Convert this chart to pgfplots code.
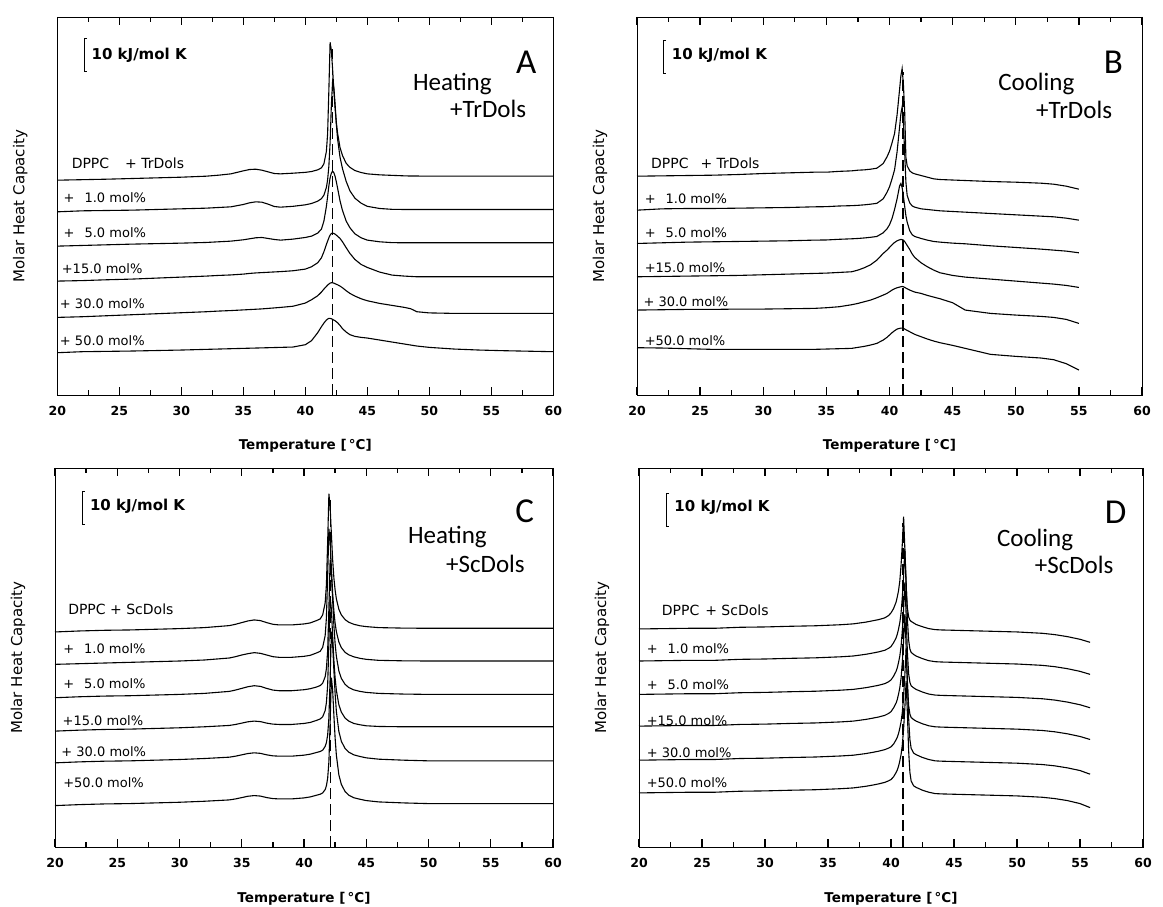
\documentclass[border=0pt]{standalone}
\usepackage{fontspec}
\setmainfont{DejaVu Sans}
\newfontfamily\calib{Carlito}
\usepackage{pgfplots}
\usepackage{pgfplotstable}
\pgfplotsset{compat=1.18}

% Excess molar heat capacity (kJ/mol K) of each sample, relative to its
% value at 20 C; every trace is stacked by its own offset in the plot.

% Heating, DPPC + TrDols
\pgfplotstableread{
T a0 a1 a2 a3 a4 a5
20 0 0 0 0 0 0
22 0.15 0.3 0.2 0.15 0.2 0.3
24 0.3 0.4 0.4 0.4 0.5 0.4
26 0.5 0.5 0.6 0.6 0.8 0.5
28 0.7 0.7 0.75 0.9 1.1 0.65
30 0.9 0.9 0.9 1.2 1.4 0.8
32 1.2 1.1 1.1 1.5 1.7 1.0
33 1.5 1.3 1.3 1.7 1.9 1.1
34 1.9 1.5 1.5 1.85 2.05 1.2
35 2.8 2.2 1.9 2.1 2.25 1.3
35.5 3.2 2.7 2.2 2.3 2.35 1.35
36 3.3 3.0 2.5 2.45 2.45 1.4
36.5 3.0 2.9 2.6 2.55 2.55 1.45
37 2.5 2.3 2.3 2.65 2.7 1.5
37.5 2.0 1.6 2.0 2.75 2.85 1.55
38 1.9 1.4 1.8 2.85 3.0 1.6
39 2.1 1.65 2.1 3.1 3.35 1.7
40 2.35 2.1 2.6 3.6 4.3 2.4
40.5 2.6 2.5 3.0 4.3 5.3 3.6
41 3.1 3.2 3.9 5.5 6.5 6.0
41.3 3.7 3.95 5.1 7.0 7.6 7.8
41.5 4.9 5.0 7.5 8.8 8.5 8.9
41.7 8.6 7.3 11.9 11.0 9.3 9.8
41.8 14.0 9.6 14.9 12.0 9.7 10.1
41.9 26.9 13.7 18.1 13.0 10.0 10.3
42.0 41.4 20.7 20.5 13.8 10.3 10.3
42.1 39.0 31.8 21.9 14.3 10.4 10.2
42.2 33.5 39.2 22.5 14.4 10.4 10.0
42.3 27.2 37.4 22.05 14.3 10.3 9.8
42.4 21.7 32.5 21.0 14.1 10.1 9.6
42.5 17.4 26.5 19.35 13.8 9.95 9.3
42.6 14.2 22.0 17.5 13.5 9.8 9.0
42.8 9.8 16.4 13.6 12.8 9.4 8.2
43.0 7.4 12.95 10.7 11.8 8.9 7.2
43.3 5.05 9.1 7.5 10.0 8.0 6.2
43.6 3.85 6.3 5.5 8.3 7.2 5.4
44.0 2.9 4.1 3.7 6.5 6.4 4.9
44.5 2.3 2.6 2.5 5.0 5.6 4.6
45 1.9 1.65 1.8 4.1 5.0 4.4
46 1.6 1.0 1.3 2.7 4.2 3.8
47 1.45 0.75 1.05 1.8 3.6 3.2
48 1.3 0.7 1.0 1.5 3.0 2.6
48.5 1.25 0.7 1.0 1.4 2.6 2.3
49 1.25 0.7 1.0 1.3 1.7 2.0
50 1.2 0.7 1.0 1.3 1.35 1.6
52 1.2 0.7 1.0 1.3 1.2 1.1
54 1.2 0.7 1.0 1.3 1.2 0.8
56 1.2 0.7 1.0 1.3 1.2 0.6
58 1.2 0.7 1.0 1.3 1.2 0.45
60 1.2 0.7 1.0 1.3 1.2 0.3
}\tabA

% Cooling, DPPC + TrDols
\pgfplotstableread{
T b0 b1 b2 b3 b4 b5
20 0 0 0 0 0 0
22 0.1 0.4 0.2 0.1 0.1 -0.1
24 0.2 0.5 0.4 0.2 0.2 -0.3
26 0.3 0.5 0.5 0.3 0.2 -0.5
28 0.5 0.6 0.6 0.4 0.3 -0.5
30 0.8 0.7 0.7 0.6 0.3 -0.5
32 1.0 0.8 0.8 0.8 0.4 -0.5
34 1.2 1.0 1.0 1.0 0.5 -0.5
35 1.2 1.05 1.05 1.1 0.7 -0.4
36 1.45 1.25 1.25 1.3 1.0 -0.3
37 1.6 1.35 1.4 1.5 1.6 -0.2
37.5 1.8 1.45 1.5 2.0 2.0 0.1
38 1.9 1.6 1.65 2.7 2.5 0.4
38.5 2.1 1.8 1.85 3.6 3.0 0.8
39 2.4 2.05 2.1 5.0 3.7 1.3
39.5 3.8 3.4 3.2 7.0 4.5 2.3
39.8 5.8 5.35 4.4 8.0 5.0 3.1
40.0 7.5 7.0 5.6 8.8 5.5 3.8
40.2 10.0 9.4 7.5 9.6 6.0 4.5
40.4 12.8 12.1 10.2 10.3 6.4 5.1
40.6 18.4 17.5 13.4 10.8 6.7 5.6
40.8 26.1 25.0 17.3 11.1 6.9 5.8
40.9 30.1 28.9 18.0 11.2 7.0 5.9
41.0 32.3 31.0 16.8 11.15 7.1 5.9
41.1 27.6 26.45 14.3 11.0 7.0 5.8
41.2 19.7 17.4 11.2 10.6 6.8 5.6
41.3 5.65 8.35 8.3 10.0 6.6 5.4
41.4 3.1 4.4 6.4 9.4 6.4 5.2
41.6 1.6 2.2 3.85 8.2 6.0 4.8
41.8 1.0 1.25 2.6 6.8 5.7 4.4
42.0 0.7 0.9 2.1 5.8 5.4 4.0
42.5 0.2 0.4 1.5 4.2 5.0 3.3
43 -0.3 0.2 1.0 3.0 4.4 2.6
43.5 -0.8 0 0.6 2.0 3.9 2.0
44 -1.0 -0.2 0.4 1.2 3.4 1.5
45 -1.15 -0.4 0.1 0.4 2.2 0.7
46 -1.3 -0.6 -0.1 -0.1 0.0 -0.2
48 -1.6 -1.0 -0.7 -0.7 -1.0 -2.0
50 -1.8 -1.4 -1.2 -1.3 -1.5 -2.6
52 -2.1 -1.8 -1.7 -1.9 -1.9 -3.1
53 -2.4 -2.0 -2.0 -2.2 -2.2 -3.6
54 -3.0 -2.4 -2.3 -2.6 -2.8 -4.8
55 -3.9 -3.0 -2.8 -3.2 -4.0 -6.7
}\tabB

% Heating, DPPC + ScDols
\pgfplotstableread{
T c0 c1 c2 c3 c4 c5
20 0 0 0 0 0 0
22 0.3 0.2 0.3 0.3 0.3 0.3
24 0.5 0.4 0.5 0.5 0.5 0.5
26 0.6 0.6 0.6 0.6 0.6 0.6
28 0.8 0.8 0.8 0.8 0.8 0.8
30 1.0 1.0 1.0 1.0 1.0 1.0
32 1.3 1.3 1.3 1.3 1.3 1.3
33 1.6 1.6 1.6 1.5 1.5 1.5
34 1.9 1.9 1.9 1.7 1.7 1.7
34.5 2.3 2.3 2.3 2.0 2.0 2.0
35 2.8 2.8 2.8 2.4 2.4 2.4
35.5 3.3 3.2 3.3 2.8 2.8 2.8
36 3.6 3.5 3.6 3.0 3.0 3.0
36.5 3.4 3.3 3.4 2.85 2.85 2.85
37 2.8 2.8 2.8 2.4 2.4 2.4
37.5 2.3 2.3 2.3 2.1 2.1 2.1
38 2.1 2.1 2.1 2.0 2.0 2.0
39 2.1 2.1 2.1 2.0 2.0 2.0
40 2.4 2.4 2.4 2.3 2.3 2.3
40.5 2.7 2.7 2.7 2.6 2.6 2.6
41 3.4 3.4 3.2 3.2 3.1 3.1
41.3 3.9 3.9 3.65 3.65 3.4 3.4
41.5 5.1 5.1 4.35 4.3 3.8 3.8
41.7 8.7 8.6 6.3 6.15 4.9 4.8
41.8 14.1 13.9 8.7 8.5 6.05 5.95
41.9 26.9 26.5 14.05 13.75 8.3 8.15
42.0 41.4 40.6 26.9 26.3 13.4 13.1
42.1 37.4 36.8 41.35 40.35 25.55 24.95
42.2 29.3 28.9 37.4 36.5 39.3 38.3
42.3 21.7 21.4 29.25 28.55 35.55 34.65
42.4 16.2 16.0 21.7 21.2 27.8 27.1
42.5 12.5 12.3 16.2 15.9 20.7 20.2
42.6 9.9 9.8 12.4 12.2 15.4 15.1
42.8 6.8 6.7 8.05 7.9 9.4 9.2
43.0 5.1 5.0 5.8 5.7 6.45 6.35
43.3 3.7 3.6 4.0 3.9 4.3 4.2
43.6 2.9 2.85 3.05 3.0 3.2 3.1
44.0 2.3 2.25 2.35 2.3 2.4 2.35
44.5 1.85 1.8 1.9 1.9 1.9 1.9
45 1.6 1.5 1.6 1.6 1.5 1.5
46 1.3 1.2 1.3 1.4 1.1 1.1
48 1.15 1.05 1.1 1.3 0.8 0.8
50 1.1 1.0 1.0 1.3 0.6 0.6
55 1.1 1.0 1.0 1.3 0.6 0.6
60 1.1 1.0 1.0 1.3 0.6 0.6
}\tabC

% Cooling, DPPC + ScDols
\pgfplotstableread{
T d0 d1 d2 d3 d4 d5
20 0 0 0 0 0 0
22 0.1 0.1 0.1 0.1 0.1 0.1
24 0.2 0.2 0.2 0.2 0.2 0.2
26 0.2 0.2 0.2 0.2 0.2 0.2
28 0.5 0.5 0.5 0.5 0.5 0.5
30 0.6 0.6 0.6 0.6 0.6 0.6
32 0.8 0.8 0.8 0.8 0.8 0.8
34 0.95 0.95 0.95 0.95 0.95 0.95
36 1.26 1.26 1.26 1.26 1.26 1.26
37 1.52 1.5 1.5 1.5 1.49 1.49
37.5 1.78 1.75 1.75 1.75 1.73 1.73
38 2.04 2.01 2.01 2.01 1.98 1.98
38.5 2.41 2.35 2.35 2.35 2.31 2.31
39 2.78 2.72 2.72 2.72 2.68 2.68
39.5 3.31 3.21 3.21 3.21 3.15 3.15
39.8 4.0 3.78 3.78 3.78 3.6 3.6
40.0 4.8 4.32 4.32 4.32 4.0 4.0
40.2 6.08 5.44 5.44 5.44 4.8 4.8
40.4 8.0 6.88 6.88 6.88 6.08 6.08
40.5 9.6 8.0 8.0 8.0 6.88 6.88
40.6 11.52 9.6 9.6 9.6 8.0 8.0
40.7 14.4 11.52 11.52 11.52 9.6 9.6
40.8 19.2 14.4 14.4 14.4 11.52 11.52
40.9 25.6 19.2 19.2 19.2 14.4 14.4
41.0 33.6 25.6 25.6 25.6 19.2 19.2
41.1 23.95 33.55 33.55 33.55 25.55 25.55
41.2 12.7 23.9 23.9 23.9 33.5 33.5
41.3 6.25 12.65 12.65 12.65 23.85 23.85
41.4 3.64 6.2 6.2 6.2 12.6 12.6
41.5 2.63 3.59 3.59 3.59 6.15 6.15
41.6 2.26 2.58 2.58 2.58 3.54 3.54
41.8 1.79 1.95 1.95 1.95 2.11 2.11
42.0 1.32 1.48 1.48 1.48 1.64 1.64
42.5 0.66 0.7 0.7 0.7 0.8 0.8
43 0.1 0.1 0.1 0.1 0.2 0.2
43.5 -0.2 -0.2 -0.2 -0.2 -0.2 -0.2
44 -0.3 -0.3 -0.3 -0.3 -0.3 -0.3
46 -0.5 -0.5 -0.5 -0.5 -0.5 -0.5
48 -0.7 -0.7 -0.7 -0.7 -0.7 -0.7
50 -0.9 -0.9 -0.9 -0.9 -0.9 -0.9
52 -1.3 -1.3 -1.3 -1.3 -1.3 -1.3
53 -1.7 -1.7 -1.7 -1.7 -1.7 -1.7
54 -2.3 -2.3 -2.3 -2.3 -2.3 -2.3
55 -3.1 -3.1 -3.1 -3.1 -3.1 -3.2
55.8 -4.0 -4.0 -4.0 -4.0 -4.2 -4.4
}\tabD

\pgfplotsset{
  dsc/.style={
    scale only axis,
    anchor=south west,
    xmin=20, xmax=60, ymin=0, ymax=113.5,
    xtick={20,25,...,60},
    minor xtick={22.5,27.5,...,57.5},
    ymajorticks=false,
    yminorticks=false,
    xtick pos=both,
    xticklabel pos=bottom,
    xtick align=inside,
    major tick length=8pt,
    minor tick length=5pt,
    xtick style={draw=black, line width=1.3pt},
    axis line style={line width=0.9pt},
    axis on top,
    xticklabel style={font=\bfseries\fontsize{12.5}{14}\selectfont, yshift=-8pt,
      /pgf/number format/assume math mode=true},
    xlabel={Temperature [\,°C]},
    xlabel style={font=\bfseries\fontsize{13.5}{16}\selectfont,
      at={([yshift=-55pt]axis description cs:0.5,0)}, anchor=base},
    ylabel={Molar Heat Capacity},
    ylabel style={font=\fontsize{15}{18}\selectfont,
      at={([xshift=-37pt]axis description cs:0,0.5)}, anchor=center},
    clip=false,
    cycle list={black,solid\\},
    every axis plot/.append style={line width=1.1pt, no markers},
  },
  vline/.style={black, solid, line width=1.4pt, dash pattern=on 11pt off 5pt},
  sbar/.style={black, solid, line width=1pt},
}
\tikzset{
  smp/.style={anchor=base west, inner sep=0pt, font=\fontsize{13}{15}\selectfont},
  dppc/.style={anchor=base west, inner sep=0pt, font=\fontsize{14}{16}\selectfont},
  sbtxt/.style={anchor=base west, inner sep=0pt, font=\bfseries\fontsize{15}{17}\selectfont},
  mode/.style={anchor=base west, inner sep=0pt, font=\calib\fontsize{25}{28}\selectfont},
  letter/.style={anchor=base east, inner sep=0pt, font=\calib\fontsize{35}{38}\selectfont},
}

\begin{document}
\begin{tikzpicture}
\useasboundingbox (0pt,0pt) rectangle (1163pt,906pt);

% A: heating, TrDols
\begin{axis}[dsc, at={(57.3pt,511pt)}, width=496pt, height=378pt]
\addplot table[x=T, y expr=\thisrow{a0}+64.5] {\tabA};
\addplot table[x=T, y expr=\thisrow{a1}+55.0] {\tabA};
\addplot table[x=T, y expr=\thisrow{a2}+44.7] {\tabA};
\addplot table[x=T, y expr=\thisrow{a3}+34.2] {\tabA};
\addplot table[x=T, y expr=\thisrow{a4}+23.3] {\tabA};
\addplot table[x=T, y expr=\thisrow{a5}+12.7] {\tabA};
\addplot[vline] coordinates {(42.2,0) (42.2,104)};
\addplot[sbar] coordinates {(22.4,107) (22.2,107) (22.2,97) (22.4,97)};
\node[sbtxt] at (axis cs:22.75,100.8) {10 kJ/mol K};
\node[letter] at (axis cs:58.66,96.4) {A};
\node[mode] at (axis cs:48.67,91.4) {Heating};
\node[mode] at (axis cs:51.67,83.2) {+TrDols};
\node[dppc] at (axis cs:21.15,68.0) {DPPC\hspace{16pt}+ TrDols};
\node[smp] at (axis cs:20.5,57.7) {+\hspace{10pt}1.0 mol\%};
\node[smp] at (axis cs:20.5,47.3) {+\hspace{10pt}5.0 mol\%};
\node[smp] at (axis cs:20.35,36.5) {+15.0 mol\%};
\node[smp] at (axis cs:20.2,26.0) {+ 30.0 mol\%};
\node[smp] at (axis cs:20.2,15.0) {+ 50.0 mol\%};
\end{axis}

% B: cooling, TrDols
\begin{axis}[dsc, at={(637pt,511pt)}, width=505pt, height=378pt]
\addplot table[x=T, y expr=\thisrow{b0}+65.7] {\tabB};
\addplot table[x=T, y expr=\thisrow{b1}+55.5] {\tabB};
\addplot table[x=T, y expr=\thisrow{b2}+45.5] {\tabB};
\addplot table[x=T, y expr=\thisrow{b3}+35.5] {\tabB};
\addplot table[x=T, y expr=\thisrow{b4}+25.5] {\tabB};
\addplot table[x=T, y expr=\thisrow{b5}+14.2] {\tabB};
\addplot[vline] coordinates {(41.07,0) (41.07,97)};
\addplot[sbar] coordinates {(22.3,106.5) (22.1,106.5) (22.1,96.5) (22.3,96.5)};
\node[sbtxt] at (axis cs:22.75,100.6) {10 kJ/mol K};
\node[letter] at (axis cs:58.5,96.5) {B};
\node[mode] at (axis cs:48.6,91.3) {Cooling};
\node[mode] at (axis cs:51.6,83.0) {+TrDols};
\node[dppc] at (axis cs:21.1,68.0) {DPPC\hspace{12pt}+ TrDols};
\node[smp] at (axis cs:20.6,57.5) {+\hspace{10pt}1.0 mol\%};
\node[smp] at (axis cs:20.6,47.3) {+\hspace{10pt}5.0 mol\%};
\node[smp] at (axis cs:20.6,36.7) {+15.0 mol\%};
\node[smp] at (axis cs:20.5,26.5) {+ 30.0 mol\%};
\node[smp] at (axis cs:20.6,15.0) {+50.0 mol\%};
\end{axis}

% C: heating, ScDols
\begin{axis}[dsc, at={(55pt,59pt)}, width=498pt, height=379pt]
\addplot table[x=T, y expr=\thisrow{c0}+64.4] {\tabC};
\addplot table[x=T, y expr=\thisrow{c1}+54.7] {\tabC};
\addplot table[x=T, y expr=\thisrow{c2}+44.7] {\tabC};
\addplot table[x=T, y expr=\thisrow{c3}+34.7] {\tabC};
\addplot table[x=T, y expr=\thisrow{c4}+25.2] {\tabC};
\addplot table[x=T, y expr=\thisrow{c5}+12.4] {\tabC};
\addplot[vline] coordinates {(42.15,0) (42.15,105)};
\addplot[sbar] coordinates {(22.4,106.5) (22.2,106.5) (22.2,96.5) (22.4,96.5)};
\node[sbtxt] at (axis cs:22.8,100.7) {10 kJ/mol K};
\node[letter] at (axis cs:58.5,97.2) {C};
\node[mode] at (axis cs:48.35,91.0) {Heating};
\node[mode] at (axis cs:51.4,82.2) {+ScDols};
\node[dppc] at (axis cs:21.05,69.7) {DPPC + ScDols};
\node[smp] at (axis cs:20.65,58.0) {+\hspace{10pt}1.0 mol\%};
\node[smp] at (axis cs:20.65,47.4) {+\hspace{10pt}5.0 mol\%};
\node[smp] at (axis cs:20.6,36.4) {+15.0 mol\%};
\node[smp] at (axis cs:20.5,27.0) {+ 30.0 mol\%};
\node[smp] at (axis cs:20.65,17.7) {+50.0 mol\%};
\end{axis}

% D: cooling, ScDols
\begin{axis}[dsc, at={(639pt,59pt)}, width=504pt, height=379pt]
\addplot table[x=T, y expr=\thisrow{d0}+65.3] {\tabD};
\addplot table[x=T, y expr=\thisrow{d1}+55.7] {\tabD};
\addplot table[x=T, y expr=\thisrow{d2}+45.7] {\tabD};
\addplot table[x=T, y expr=\thisrow{d3}+36.2] {\tabD};
\addplot table[x=T, y expr=\thisrow{d4}+26.0] {\tabD};
\addplot table[x=T, y expr=\thisrow{d5}+16.2] {\tabD};
\addplot[vline] coordinates {(40.95,0) (40.95,97)};
\addplot[sbar] coordinates {(22.4,106) (22.2,106) (22.2,96) (22.4,96)};
\node[sbtxt] at (axis cs:22.8,100.5) {10 kJ/mol K};
\node[letter] at (axis cs:58.7,97.0) {D};
\node[mode] at (axis cs:48.4,90.0) {Cooling};
\node[mode] at (axis cs:51.4,81.8) {+ScDols};
\node[dppc] at (axis cs:21.8,69.3) {DPPC\hspace{6pt}+ ScDols};
\node[smp] at (axis cs:20.6,57.8) {+\hspace{10pt}1.0 mol\%};
\node[smp] at (axis cs:20.6,47.2) {+\hspace{10pt}5.0 mol\%};
\node[smp] at (axis cs:20.6,36.5) {+15.0 mol\%};
\node[smp] at (axis cs:20.6,26.8) {+ 30.0 mol\%};
\node[smp] at (axis cs:20.6,17.8) {+50.0 mol\%};
\end{axis}
\end{tikzpicture}
\end{document}
